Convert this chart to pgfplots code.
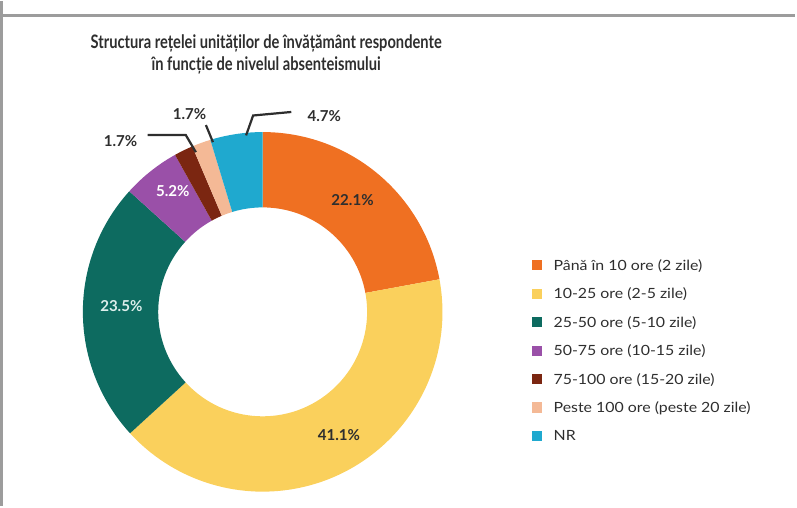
\documentclass[border=0pt]{standalone}
\usepackage{pgfplots}
\pgfplotsset{compat=1.18}
\usepackage{pgfplotstable}
\usepackage{fontspec}
\setmainfont{Lato}
\newfontfamily\titlefont{Lato}[FakeStretch=0.79]
\newfontfamily\legendfont{Lato}[FakeStretch=1.13]
\definecolor{c0}{HTML}{EF7022}
\definecolor{c1}{HTML}{FAD05C}
\definecolor{c2}{HTML}{0D6B60}
\definecolor{c3}{HTML}{9A50A8}
\definecolor{c4}{HTML}{7B2611}
\definecolor{c5}{HTML}{F4B996}
\definecolor{c6}{HTML}{1FA9CF}
\definecolor{tdark}{HTML}{2E2E2E}
\definecolor{tlight}{HTML}{DDEFEC}
\definecolor{framegray}{HTML}{9C9C9C}
% value, label position (centre x, baseline y), label colour
\pgfplotstableread{
value lx ly tc
22.1 356 299.3 tdark
41.1 342.5 64.7 tdark
23.5 125.8 193.7 tlight
5.2 177 308 white
1.7 125 358 tdark
1.7 193.7 384.3 tdark
4.7 327.8 382.7 tdark
}\slices
\def\cx{266.5}\def\cy{193}\def\Ro{179}\def\Ri{104}
\begin{document}
\begin{tikzpicture}
\begin{axis}[
  scale only axis, width=797pt, height=502pt,
  xmin=0, xmax=797, ymin=0, ymax=502, enlargelimits=false,
  hide axis, clip=false]
% frame
\draw[framegray, line width=3pt] (axis cs:6.5,502) -- (axis cs:6.5,488.5) -- (axis cs:797,488.5);
\draw[framegray, line width=3pt] (axis cs:6.5,488.5) -- (axis cs:6.5,0);
% title
\node[anchor=base, font=\titlefont\fontsize{18.5}{21}\selectfont\bfseries, text=tdark] at (axis cs:270,455.3) {Structura rețelei unităților de învățământ respondente};
\node[anchor=base, font=\titlefont\fontsize{18.5}{21}\selectfont\bfseries, text=tdark] at (axis cs:270,433.7) {în funcție de nivelul absenteismului};
% donut slices
\gdef\startang{90}
\pgfplotsforeachungrouped \i in {0,...,6}{%
  \pgfplotstablegetelem{\i}{value}\of\slices \let\v\pgfplotsretval
  \pgfplotstablegetelem{\i}{lx}\of\slices \let\lx\pgfplotsretval
  \pgfplotstablegetelem{\i}{ly}\of\slices \let\ly\pgfplotsretval
  \pgfplotstablegetelem{\i}{tc}\of\slices \let\tc\pgfplotsretval
  \pgfmathsetmacro\endang{\startang-3.6*\v}
  \pgfmathsetmacro\ax{\cx+\Ro*cos(\startang)}
  \pgfmathsetmacro\ay{\cy+\Ro*sin(\startang)}
  \pgfmathsetmacro\bx{\cx+\Ri*cos(\endang)}
  \pgfmathsetmacro\by{\cy+\Ri*sin(\endang)}
  \edef\tmp{\noexpand\fill[c\i] (axis cs:\ax,\ay) arc[start angle=\startang, end angle=\endang, radius=\Ro pt] -- (axis cs:\bx,\by) arc[start angle=\endang, end angle=\startang, radius=\Ri pt] -- cycle;
    \noexpand\node[anchor=base, inner sep=0pt, text=\tc, font=\noexpand\fontsize{15}{18}\noexpand\selectfont\noexpand\bfseries] at (axis cs:\lx,\ly) {\v\%};}%
  \tmp
  \global\let\startang\endang
}
% leader lines
\addplot[tdark, line width=2.2pt, sharp plot] coordinates {(152,369) (190,369) (200,352)};
\addplot[tdark, line width=2.2pt, sharp plot] coordinates {(210,379) (217,362)};
\addplot[tdark, line width=2.2pt, sharp plot] coordinates {(295,392) (257,388.5) (250,368.7)};
% legend
\foreach \name [count=\k from 0] in {Până în 10 ore (2 zile), 10-25 ore (2-5 zile), 25-50 ore (5-10 zile), 50-75 ore (10-15 zile), 75-100 ore (15-20 zile), Peste 100 ore (peste 20 zile), NR}{
  \pgfmathsetmacro\yc{502-262.7-28.3*\k}
  \pgfmathsetmacro\yb{\yc-5}
  \edef\tmp{\noexpand\fill[c\k] (axis cs:535,\yc-5) rectangle (axis cs:545,\yc+5);
    \noexpand\node[anchor=base west, inner sep=0pt, text=tdark, font=\noexpand\legendfont\noexpand\fontsize{14}{16}\noexpand\selectfont] at (axis cs:556,\yb) {\name};}
  \tmp
}
\end{axis}
\end{tikzpicture}
\end{document}
